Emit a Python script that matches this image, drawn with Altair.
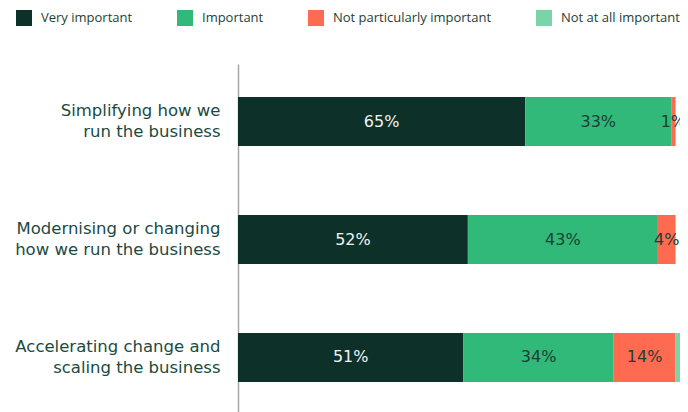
import altair as alt
import pandas as pd

categories = [
    "Simplifying how we\nrun the business",
    "Modernising or changing\nhow we run the business",
    "Accelerating change and\nscaling the business",
]
responses = ["Very important", "Important", "Not particularly important", "Not at all important"]
colors = ["#0d3129", "#30b978", "#ff6b51", "#7bd3a9"]

very_important = [65, 52, 51]
important = [33, 43, 34]
not_particularly = [1, 4, 14]
not_at_all = [0, 0, 1]

series = [very_important, important, not_particularly, not_at_all]
rows = []
for ri, resp in enumerate(responses):
    for ci, cat in enumerate(categories):
        rows.append({"cat": cat, "resp": resp, "idx": ri, "value": series[ri][ci]})
df = pd.DataFrame(rows)

FONT = "DejaVu Sans"
TEXT = "#1c3f37"

y_enc = alt.Y(
    "cat:N",
    sort=categories,
    scale=alt.Scale(paddingInner=0.585, paddingOuter=0.28),
    axis=alt.Axis(
        title=None,
        ticks=False,
        domain=True,
        domainColor="#a8a8a8",
        domainWidth=1.5,
        labelFont=FONT,
        labelFontSize=16.5,
        labelColor="#1b4a3f",
        labelPadding=18,
        labelLimit=400,
        labelLineHeight=21,
        labelOffset=-10.5,
        labelExpr="split(datum.label, '\\n')",
    ),
)

base = alt.Chart(df)

bars = base.mark_bar().encode(
    y=y_enc,
    x=alt.X("value:Q", stack="zero", scale=alt.Scale(domain=[0, 100], nice=False), axis=None),
    color=alt.Color(
        "resp:N",
        scale=alt.Scale(domain=responses, range=colors),
        legend=alt.Legend(
            title=None,
            orient="none",
            legendX=-222,
            legendY=-54,
            direction="horizontal",
            columns=4,
            symbolType="square",
            symbolSize=256,
            symbolStrokeWidth=0,
            symbolOpacity=1,
            labelFont="Open Sans",
            labelFontSize=13,
            labelColor=TEXT,
            labelOffset=9,
            columnPadding=44,
        ),
    ),
    order=alt.Order("idx:Q"),
)

labels = (
    base.transform_stack(
        stack="value", groupby=["cat"], sort=[alt.SortField("idx")], as_=["x0", "x1"]
    )
    .transform_calculate(mid="(datum.x0 + datum.x1) / 2", lbl="datum.value + '%'")
    .transform_filter("datum.value > 0 && datum.resp != 'Not at all important'")
    .mark_text(font=FONT, fontSize=16)
    .encode(
        y=alt.Y("cat:N", sort=categories),
        x=alt.X("mid:Q"),
        text="lbl:N",
        color=alt.condition(
            "datum.resp == 'Very important'", alt.value("#f2f2f2"), alt.value(TEXT)
        ),
    )
)

chart = (
    alt.layer(bars, labels)
    .properties(
        width=442,
        height=351,
        autosize=alt.AutoSizeParams(type="none"),
        padding={"left": 230, "top": 56, "right": 0, "bottom": 0},
    )
    .configure_view(stroke=None)
)

chart.save("out.html", embed_options={"renderer": "svg", "actions": False})
